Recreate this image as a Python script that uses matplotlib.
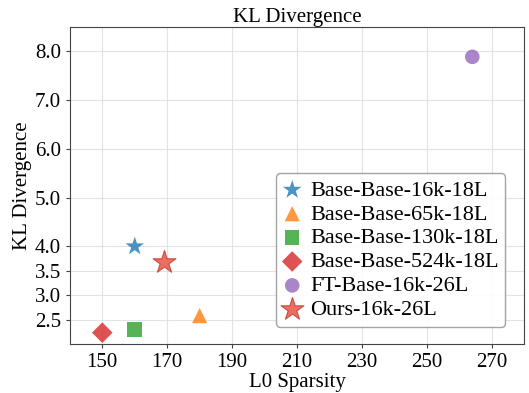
import matplotlib
matplotlib.use("Agg")
import matplotlib.pyplot as plt

plt.rcParams['font.family'] = ['Liberation Serif', 'DejaVu Serif']

labels = ['Base-Base-16k-18L', 'Base-Base-65k-18L', 'Base-Base-130k-18L',
          'Base-Base-524k-18L', 'FT-Base-16k-26L', 'Ours-16k-26L']
l0 = [160, 180, 160, 150, 264, 169]
kl = [4.0, 2.58, 2.30, 2.23, 7.89, 3.68]
markers = ['*', '^', 's', 'D', 'o', '*']
colors = ['#1f77b4', '#ff7f0e', '#2ca02c', '#d62728', '#9467bd', '#e74c3c']
sizes = [200, 120, 110, 110, 110, 300]

xticks = [150, 170, 190, 210, 230, 250, 270]
yticks = [2.5, 3.0, 3.5, 4.0, 5.0, 6.0, 7.0, 8.0]

fig = plt.figure(figsize=(5.29, 3.93), dpi=100)
ax = fig.add_axes([0.132, 0.125, 0.859, 0.806])

for i in range(len(labels)):
    if labels[i].startswith('Ours'):
        ax.scatter(l0[i], kl[i], marker=markers[i], s=sizes[i], color=colors[i],
                   alpha=0.8, edgecolors='#c0392b', linewidths=0.8, label=labels[i], zorder=3)
    else:
        ax.scatter(l0[i], kl[i], marker=markers[i], s=sizes[i], color=colors[i],
                   alpha=0.8, edgecolors='none', label=labels[i], zorder=3)

ax.set_xlim(140, 280)
ax.set_ylim(2.0, 8.5)
ax.set_xticks(xticks)
ax.set_yticks(yticks)
ax.set_yticklabels(['%.1f' % v for v in yticks])
ax.tick_params(labelsize=15, length=3, color='#444444')
ax.grid(True, color='#dddddd', linewidth=0.8, alpha=0.8)
ax.set_axisbelow(True)
for sp in ax.spines.values():
    sp.set_color('#444444')

ax.set_xlabel('L0 Sparsity', fontsize=15, labelpad=1)
ax.set_ylabel('KL Divergence', fontsize=15, labelpad=2)
ax.set_title('KL Divergence', fontsize=15, pad=2)

ax.legend(loc='lower right', bbox_to_anchor=(0.958, 0.054), fontsize=16,
          handletextpad=0.35, labelspacing=0.15, borderpad=0.3, borderaxespad=0,
          handlelength=0.9, framealpha=0.9, edgecolor='#999999')

fig.savefig('out.png', dpi=100)
